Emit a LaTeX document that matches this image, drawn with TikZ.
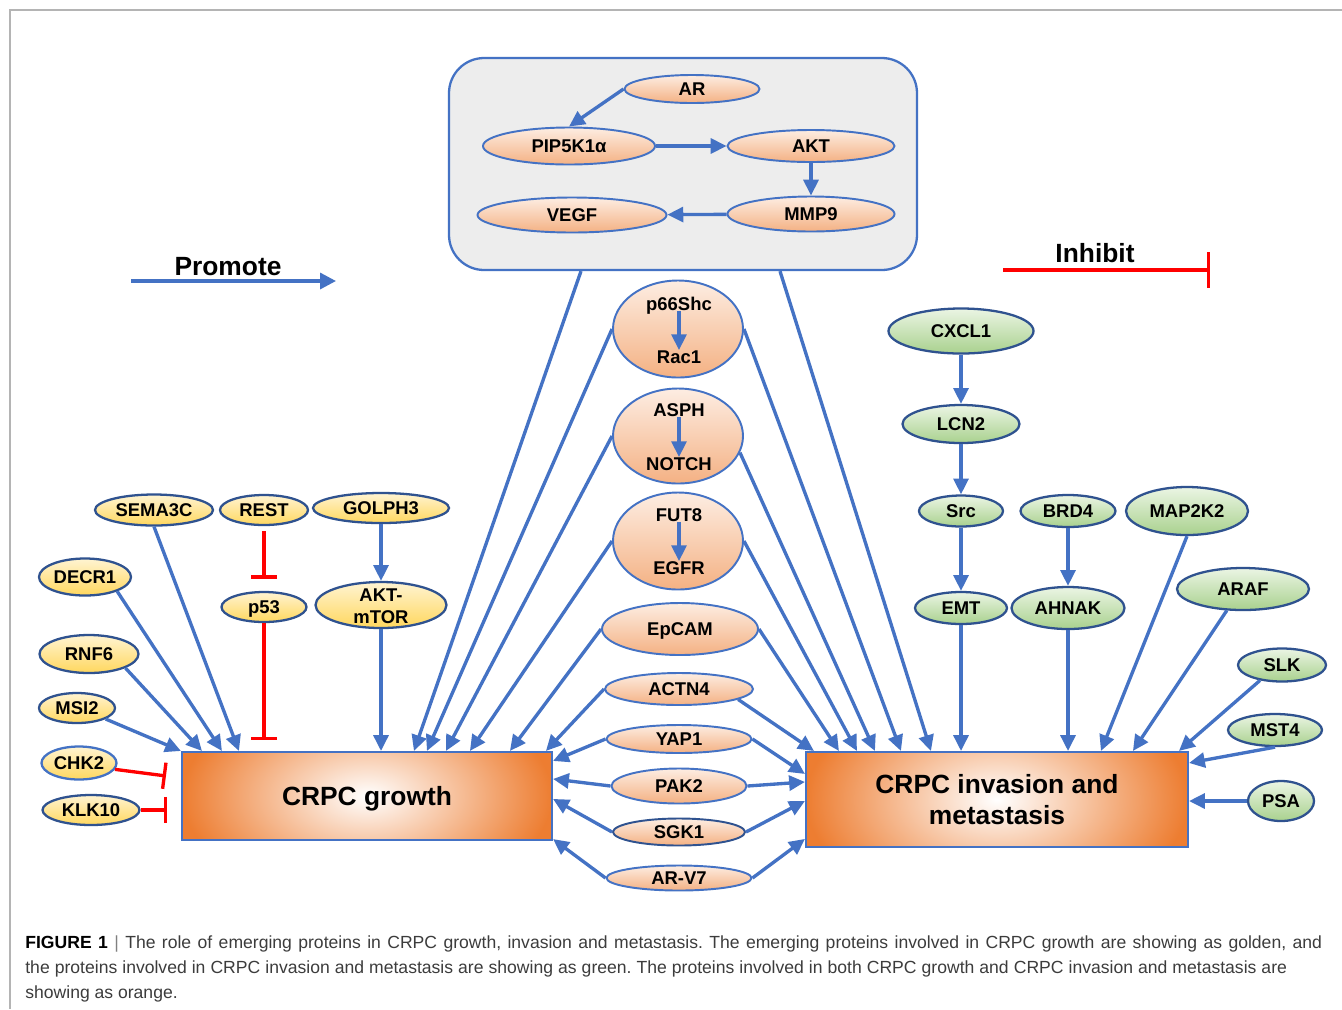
\documentclass[tikz,border=0pt]{standalone}
\usepackage{fontspec}
\setmainfont{Liberation Sans}
\usetikzlibrary{arrows.meta,shapes.geometric,calc}
\definecolor{ablue}{HTML}{4472C4}
\definecolor{navy}{HTML}{2F528F}
\definecolor{goldT}{HTML}{FFF4D2}
\definecolor{goldB}{HTML}{FFD75E}
\definecolor{oraT}{HTML}{FDEDE2}
\definecolor{oraB}{HTML}{F4B183}
\definecolor{grnT}{HTML}{EBF5E4}
\definecolor{grnB}{HTML}{A9D18E}
\definecolor{boxor}{HTML}{ED7D31}
\definecolor{topgray}{HTML}{EDEDED}
\definecolor{framegray}{HTML}{B4B4B4}
\definecolor{inhred}{HTML}{FF0000}
\definecolor{capgray}{HTML}{3C3C3C}
\begin{document}
\frenchspacing
\begin{tikzpicture}[x=0.02cm,y=-0.02cm,
  lbl/.style={font=\bfseries\fontsize{10.5}{12.5}\selectfont, text height=7.5pt, text depth=0pt, inner sep=0pt},
  el/.style 2 args={ellipse, lbl, minimum width=#1*0.02cm, minimum height=#2*0.02cm},
  gold/.style={draw=navy, line width=1.3pt, top color=goldT, bottom color=goldB},
  ora/.style={draw=ablue, line width=1.1pt, top color=oraT, bottom color=oraB},
  grn/.style={draw=navy, line width=1.3pt, top color=grnT, bottom color=grnB},
  arr/.style={draw=ablue, line width=1.9pt, -{Triangle[length=9pt,width=8.5pt]}},
  inh/.style={draw=inhred, line width=1.9pt, -{Bar[width=15pt]}},
  bigbox/.style n args={3}{draw=ablue, line width=1.2pt, fill=boxor, inner sep=0pt,
    minimum width=#1*0.02cm, minimum height=#2*0.02cm,
    path picture={\shade[inner color=white, outer color=boxor] (path picture bounding box.center) ellipse [x radius=#1/2, y radius=#3];},
    font=\bfseries\fontsize{15}{17.6}\selectfont, align=center},
  legend/.style={font=\bfseries\fontsize{15}{18}\selectfont, inner sep=0pt}
]
\useasboundingbox (0,0) rectangle (1342,1009);
\fill[white] (0,0) rectangle (1342,1009);
\draw[framegray, line width=0.8pt] (1342,10) -- (10,10) -- (10,1009);

% ---------- top box ----------
\node[draw=ablue, line width=1.3pt, fill=topgray, rounded corners=20pt, inner sep=0pt,
      minimum width=468*0.02cm, minimum height=212*0.02cm] (topbox) at (683,164) {};
\node[el={135}{28}, ora] (ar) at (692,89) {AR};
\node[el={172}{37}, ora] (pip) at (569,146) {PIP5K1α};
\node[el={167}{32}, ora] (akt) at (811,146) {AKT};
\node[el={189}{35}, ora] (vegf) at (572,215) {VEGF};
\node[el={167}{35}, ora] (mmp9) at (811,214) {MMP9};
\draw[arr] (ar.west) -- (pip.north);
\draw[arr] (pip) -- (akt);
\draw[arr] (akt) -- (mmp9);
\draw[arr] (mmp9) -- (vegf);

% ---------- legend ----------
\coordinate (promS) at (131,281);
\coordinate (promE) at (336,281);
\draw[arr, -{Triangle[length=9pt,width=9pt]}] (promS) -- (promE);
\node[legend] (promote) at (228,267) {Promote};
\coordinate (inhS) at (1003,270);
\coordinate (inhE) at (1210,270);
\draw[inh, -{Bar[width=20pt]}] (inhS) -- (inhE);
\node[legend] (inhibit) at (1095,253) {Inhibit};

% ---------- main boxes ----------
\node[bigbox={370}{88}{105}, text depth=0pt] (growth) at (367,796) {CRPC growth};
\node[bigbox={382}{95}{115}] (invasion) at (997,799.5) {CRPC invasion and\\metastasis};

% ---------- middle (orange) ----------
\node[el={130}{97}, ora] (p66) at (678,329) {};
\node[lbl] (p66a) at (679,304) {p66Shc};
\node[lbl] (p66b) at (679,357) {Rac1};
\draw[arr] (p66a) -- (p66b);
\node[el={130}{95}, ora] (asph) at (678,436) {};
\node[lbl] (asphA) at (679,410) {ASPH};
\node[lbl] (asphB) at (679,464) {NOTCH};
\draw[arr] (asphA) -- (asphB);
\node[el={130}{97}, ora] (fut8) at (678,541) {};
\node[lbl] (fut8A) at (679,515) {FUT8};
\node[lbl] (fut8B) at (679,568) {EGFR};
\draw[arr] (fut8A) -- (fut8B);
\node[el={156}{52}, ora] (epcam) at (680,629) {EpCAM};
\node[el={148}{32}, ora] (actn4) at (679,689) {ACTN4};
\node[el={145}{28}, ora] (yap1) at (679,739) {YAP1};
\node[el={135}{35}, ora] (pak2) at (679,786) {PAK2};
\node[el={132}{27}, ora, draw=navy] (sgk1) at (679,832) {SGK1};
\node[el={145}{25}, ora] (arv7) at (679,878) {AR-V7};

% to CRPC growth
\draw[arr] ($(topbox.south)+(-102,0)$) -- ($(growth.north west)+(233,0)$);
\draw[arr] (p66.west) -- ($(growth.north west)+(246,0)$);
\draw[arr] (asph.west) -- ($(growth.north west)+(265,0)$);
\draw[arr] (fut8.west) -- ($(growth.north west)+(289,0)$);
\draw[arr] (epcam.west) -- ($(growth.north west)+(329,0)$);
\draw[arr] (actn4.west) -- ($(growth.north west)+(365,0)$);
\draw[arr] (yap1.west) -- ($(growth.north east)+(0,10)$);
\draw[arr] (pak2.west) -- ($(growth.north east)+(0,28)$);
\draw[arr] (sgk1.west) -- ($(growth.north east)+(0,48)$);
\draw[arr] (arv7.west) -- ($(growth.south east)+(0,-2)$);

% to CRPC invasion
\draw[arr] ($(topbox.south)+(97,0)$) -- ($(invasion.north west)+(126,0)$);
\draw[arr] (p66.east) -- ($(invasion.north west)+(96,0)$);
\draw[arr] (asph.-15) -- ($(invasion.north west)+(70,0)$);
\draw[arr] (fut8.east) -- ($(invasion.north west)+(52,0)$);
\draw[arr] (epcam.east) -- ($(invasion.north west)+(34,0)$);
\draw[arr] (actn4.-10) -- ($(invasion.north west)+(9,0)$);
\draw[arr] (yap1.east) -- ($(invasion.north west)+(0,23)$);
\draw[arr] (pak2.east) -- ($(invasion.north west)+(0,31)$);
\draw[arr] (sgk1.east) -- ($(invasion.north west)+(0,50)$);
\draw[arr] (arv7.east) -- ($(invasion.north west)+(0,88)$);

% ---------- golden (growth) ----------
\node[el={118}{31}, gold] (sema3c) at (154,510) {SEMA3C};
\node[el={88}{30}, gold] (rest) at (264,510) {REST};
\node[el={136}{30}, gold] (golph3) at (381,508) {GOLPH3};
\node[el={92}{37}, gold] (decr1) at (85,577) {DECR1};
\node[el={85}{30}, gold] (p53) at (264,607) {p53};
\node[el={131}{46}, gold] (aktm) at (381,605) {};
\node[lbl] (aktmA) at (381,595) {AKT-};
\node[lbl] (aktmB) at (381,617) {mTOR};
\node[el={99}{38}, gold] (rnf6) at (89,654) {RNF6};
\node[el={76}{30}, gold] (msi2) at (77,708) {MSI2};
\node[el={75}{33}, gold, draw=ablue] (chk2) at (79,763) {CHK2};
\node[el={97}{30}, gold] (klk10) at (91,810) {KLK10};

\draw[arr] (msi2.-21) -- (growth.north west);
\draw[arr] (rnf6.-21) -- ($(growth.north west)+(21,0)$);
\draw[arr] (decr1.-24) -- ($(growth.north west)+(41,0)$);
\draw[arr] (sema3c.south) -- ($(growth.north west)+(58,0)$);
\draw[arr] (golph3.south) -- (aktm.north);
\draw[arr] (aktm.south) -- (aktm.south |- growth.north);
\draw[inh, shorten <=3pt, shorten >=7pt] (rest.south) -- (p53.north);
\draw[inh, shorten >=6pt] (p53.south) -- (p53.south |- growth.north);
\draw[inh] (chk2.-10) -- ($(growth.north west)+(-15,25)$);
\draw[inh] (klk10.east) -- ($(klk10.east -| growth.west)+(-14,0)$);

% ---------- green (invasion) ----------
\node[el={145}{45}, grn] (cxcl1) at (961,331) {CXCL1};
\node[el={117}{38}, grn] (lcn2) at (961,424) {LCN2};
\node[el={84}{31}, grn] (src) at (961,511) {Src};
\node[el={95}{32}, grn] (brd4) at (1068,511) {BRD4};
\node[el={122}{48}, grn] (map2k2) at (1187,511) {MAP2K2};
\node[el={92}{32}, grn] (emt) at (961,608) {EMT};
\node[el={113}{42}, grn] (ahnak) at (1068,608) {AHNAK};
\node[el={132}{42}, grn] (araf) at (1243,589) {ARAF};
\node[el={88}{33}, grn] (slk) at (1282,665) {SLK};
\node[el={94}{32}, grn] (mst4) at (1275,730) {MST4};
\node[el={66}{40}, grn] (psa) at (1281,801) {PSA};

\draw[arr] (cxcl1) -- (lcn2);
\draw[arr] (lcn2) -- (src);
\draw[arr] (src) -- (emt);
\draw[arr] (brd4) -- (ahnak);
\draw[arr] (emt.south) -- (emt.south |- invasion.north);
\draw[arr] (ahnak.south) -- (ahnak.south |- invasion.north);
\draw[arr] (map2k2.south) -- ($(invasion.north west)+(296,0)$);
\draw[arr] (araf.-127) -- ($(invasion.north west)+(328,0)$);
\draw[arr] (slk.-145) -- ($(invasion.north west)+(374,0)$);
\draw[arr] (mst4.south) -- ($(invasion.north east)+(0,12)$);
\draw[arr] (psa.west) -- (psa.west -| invasion.east);

% ---------- caption ----------
\node[anchor=base west, inner sep=0pt, font=\fontsize{10}{12}\selectfont, text=capgray] (cap1) at (25,948)
  {\makebox[25.94cm][s]{\textbf{\color{black}FIGURE 1} {\color{gray}|} The role of emerging proteins in CRPC growth, invasion and metastasis. The emerging proteins involved in CRPC growth are showing as golden, and}};
\node[anchor=base west, inner sep=0pt, font=\fontsize{10}{12}\selectfont, text=capgray] (cap2) at (25,973)
  {\makebox[25.24cm][s]{the proteins involved in CRPC invasion and metastasis are showing as green. The proteins involved in both CRPC growth and CRPC invasion and metastasis are}};
\node[anchor=base west, inner sep=0pt, font=\fontsize{10}{12}\selectfont, text=capgray] (cap3) at (25,998)
  {showing as orange.};
\end{tikzpicture}
\end{document}
